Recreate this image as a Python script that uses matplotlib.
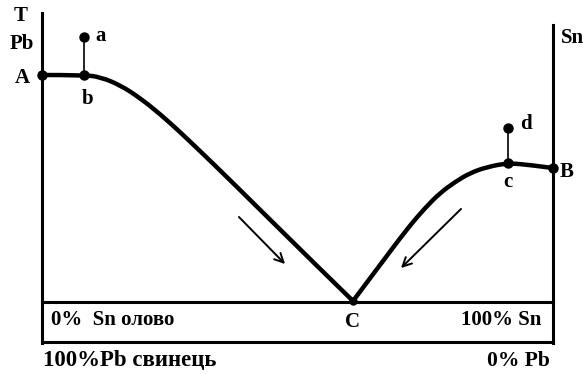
import matplotlib.pyplot as plt
from matplotlib.path import Path
from matplotlib.patches import PathPatch

# liquidus curves (x, y in picture pixels, y down)
left_x = [42, 84, 100, 120, 140, 160, 180, 200, 230, 318, 353]
left_y = [75, 75, 77, 85, 98, 114, 132, 151, 180, 267, 301]
right_x = [353, 380, 407, 425, 440, 455, 470, 487, 508, 530, 553]
right_y = [301, 265, 229, 208, 193, 182, 173, 167, 163, 165, 168]

# points and their labels
points = {"A": (42, 75), "b": (84, 75), "a": (84, 37), "c": (508, 163), "d": (508, 128), "B": (553, 168), "C": (353, 301)}
labels = [("T", 21, 16), ("Pb", 22, 44), ("A", 22, 78), ("a", 101, 36), ("b", 88, 99),
          ("Sn", 572, 38), ("d", 526, 124), ("c", 508, 182), ("B", 567, 172), ("C", 353, 322)]


def smooth_curve(xs, ys):
    # quadratic pieces through the midpoints, control at the read points
    pts = list(zip(xs, ys))
    verts = [pts[0]]
    codes = [Path.MOVETO]
    for i in range(1, len(pts) - 2):
        mid = ((pts[i][0] + pts[i + 1][0]) / 2, (pts[i][1] + pts[i + 1][1]) / 2)
        verts += [pts[i], mid]
        codes += [Path.CURVE3, Path.CURVE3]
    verts += [pts[-2], pts[-1]]
    codes += [Path.CURVE3, Path.CURVE3]
    return Path(verts, codes)


plt.rcParams['font.family'] = ['Liberation Serif', 'DejaVu Serif']
fig = plt.figure(figsize=(5.87, 3.74), dpi=100)
ax = fig.add_axes([0, 0, 1, 1])
ax.set_xlim(0, 587)
ax.set_ylim(374, 0)
ax.axis("off")

# axes and the box at the bottom
ax.plot([42, 42], [13, 343], color="black", lw=2.2)
ax.plot([553, 553], [25, 343], color="black", lw=2.2)
ax.plot([42, 553], [302, 302], color="black", lw=2.2)
ax.plot([42, 553], [342, 342], color="black", lw=2.2)

# curves
for xs, ys in [(left_x, left_y), (right_x, right_y)]:
    ax.add_patch(PathPatch(smooth_curve(xs, ys), facecolor="none", edgecolor="black",
                           lw=3.2, capstyle="round", joinstyle="round"))

# vertical ticks a-b, d-c
ax.plot([84, 84], [37, 75], color="black", lw=1.2)
ax.plot([508, 508], [128, 163], color="black", lw=1.2)

for name, (px, py) in points.items():
    ax.plot(px, py, "o", color="black", ms=6.5 if name != "C" else 5)

# arrows
ax.annotate("", xy=(287, 266), xytext=(237, 215),
            arrowprops=dict(arrowstyle="->", color="black", lw=1.4, mutation_scale=16))
ax.annotate("", xy=(399, 270), xytext=(463, 207),
            arrowprops=dict(arrowstyle="->", color="black", lw=1.4, mutation_scale=16))

for text, tx, ty in labels:
    ax.text(tx, ty, text, ha="center", va="center", fontsize=15, fontweight="bold")

ax.text(51, 320, "0%  Sn олово", ha="left", va="center", fontsize=15, fontweight="bold")
ax.text(541, 320, "100% Sn", ha="right", va="center", fontsize=15, fontweight="bold")
ax.text(43, 361, "100%Pb свинець", ha="left", va="center", fontsize=16.5, fontweight="bold")
ax.text(550, 361, "0% Pb", ha="right", va="center", fontsize=15.5, fontweight="bold")

fig.savefig("out.png", dpi=100)
